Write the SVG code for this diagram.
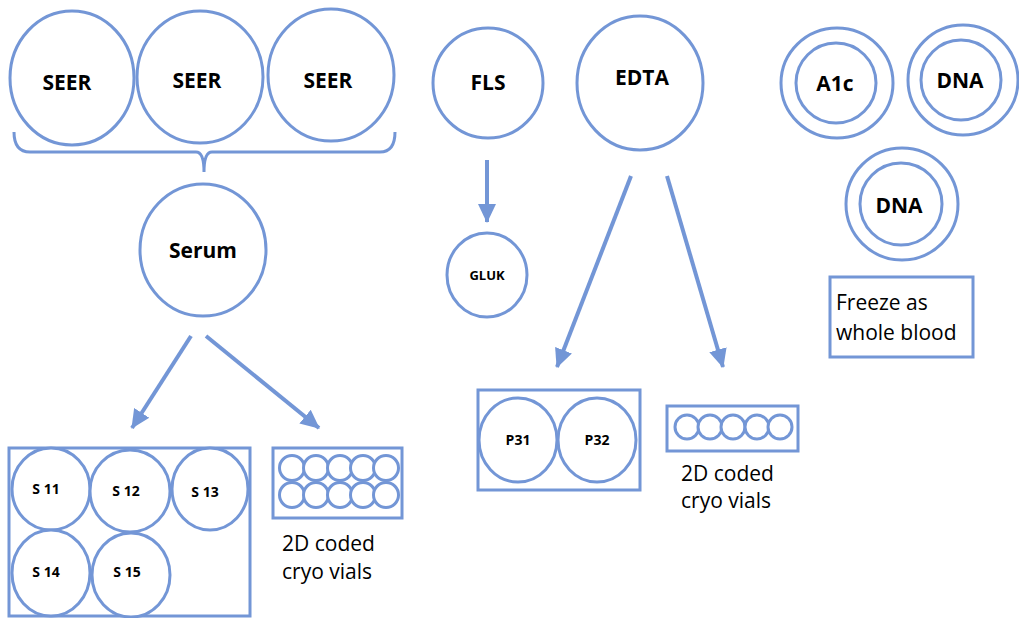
<svg xmlns="http://www.w3.org/2000/svg" width="1019" height="618" viewBox="0 0 1019 618">
  <style>
    .shape { fill: #ffffff; stroke: #7396d6; stroke-width: 3; }
    .box { fill: none; stroke: #7396d6; stroke-width: 3; }
    .vial { fill: #ffffff; stroke: #7396d6; stroke-width: 3; }
    .lbl { font-family: "Open Sans", "Liberation Sans", sans-serif; font-weight: bold; fill: #000000; text-anchor: middle; }
    .big { font-size: 21px; }
    .sm { font-size: 14px; }
    .xs { font-size: 13px; }
    .note { font-family: "Open Sans", "Liberation Sans", sans-serif; font-size: 21px; fill: #000000; }
    .conn { stroke: #7396d6; stroke-width: 4; fill: none; }
  </style>
  <defs>
    <marker id="head" markerUnits="userSpaceOnUse" markerWidth="20" markerHeight="20" viewBox="0 0 20 20" refX="18" refY="10" orient="auto">
      <path d="M0,1 L19,10 L0,19 Z" fill="#7396d6"/>
    </marker>
  </defs>

  <rect width="1019" height="618" fill="#ffffff"/>

  <!-- serum tubes -->
  <g id="seer1"><ellipse class="shape" cx="72" cy="78" rx="62" ry="67"/><text class="lbl big" x="67" y="90">SEER</text></g>
  <g id="seer2"><ellipse class="shape" cx="200" cy="77" rx="63" ry="66"/><text class="lbl big" x="197" y="88">SEER</text></g>
  <g id="seer3"><ellipse class="shape" cx="331" cy="75" rx="63" ry="66"/><text class="lbl big" x="328" y="88">SEER</text></g>

  <!-- brace grouping the SEER tubes -->
  <g id="brace">
    <path class="box" d="M14,132 Q14,152 30,152 L196,152 Q204,152 204,172 Q204,152 212,152 L380,152 Q395,152 395,132"/>
  </g>

  <g id="serum"><ellipse class="shape" cx="203" cy="250" rx="63" ry="66"/><text class="lbl big" x="203" y="258">Serum</text></g>

  <!-- serum aliquot rack -->
  <g id="serum-rack">
    <rect class="box" x="9" y="448" width="241" height="168"/>
    <ellipse class="shape" cx="51" cy="489" rx="39" ry="41"/><text class="lbl sm" x="46" y="494">S 11</text>
    <ellipse class="shape" cx="130" cy="491" rx="40" ry="41"/><text class="lbl sm" x="126" y="496">S 12</text>
    <ellipse class="shape" cx="210" cy="489" rx="38" ry="41"/><text class="lbl sm" x="205" y="497">S 13</text>
    <ellipse class="shape" cx="51" cy="573" rx="39" ry="43"/><text class="lbl sm" x="46" y="577">S 14</text>
    <ellipse class="shape" cx="131" cy="575" rx="39" ry="42"/><text class="lbl sm" x="127" y="577">S 15</text>
  </g>

  <!-- serum cryo vials -->
  <g id="serum-vials">
    <rect class="box" x="273" y="448" width="129" height="70"/>
    <circle class="vial" cx="292" cy="468" r="12.5"/>
    <circle class="vial" cx="316" cy="468" r="12.5"/>
    <circle class="vial" cx="340" cy="468" r="12.5"/>
    <circle class="vial" cx="363" cy="468" r="12.5"/>
    <circle class="vial" cx="386" cy="468" r="12.5"/>
    <circle class="vial" cx="292" cy="495" r="12.5"/>
    <circle class="vial" cx="316" cy="495" r="12.5"/>
    <circle class="vial" cx="340" cy="495" r="12.5"/>
    <circle class="vial" cx="363" cy="495" r="12.5"/>
    <circle class="vial" cx="386" cy="495" r="12.5"/>
    <text class="note" x="282" y="551">2D coded</text>
    <text class="note" x="282" y="579">cryo vials</text>
  </g>

  <g id="fls"><ellipse class="shape" cx="488" cy="83" rx="55" ry="55"/><text class="lbl big" x="488" y="90">FLS</text></g>
  <g id="gluk"><ellipse class="shape" cx="487" cy="275" rx="40" ry="42"/><text class="lbl xs" x="487" y="280">GLUK</text></g>

  <g id="edta"><ellipse class="shape" cx="640" cy="83" rx="63" ry="67"/><text class="lbl big" x="642" y="85">EDTA</text></g>

  <!-- plasma aliquot rack -->
  <g id="plasma-rack">
    <rect class="box" x="478" y="390" width="162" height="100"/>
    <ellipse class="shape" cx="518" cy="440" rx="39" ry="42"/><text class="lbl sm" x="518" y="445">P31</text>
    <ellipse class="shape" cx="597" cy="440" rx="39" ry="42"/><text class="lbl sm" x="597" y="445">P32</text>
  </g>

  <!-- plasma cryo vials -->
  <g id="plasma-vials">
    <rect class="box" x="667" y="406" width="131" height="45"/>
    <circle class="vial" cx="687" cy="427" r="12"/>
    <circle class="vial" cx="710" cy="427" r="12"/>
    <circle class="vial" cx="733" cy="427" r="12"/>
    <circle class="vial" cx="757" cy="427" r="12"/>
    <circle class="vial" cx="780" cy="427" r="12"/>
    <text class="note" x="681" y="481">2D coded</text>
    <text class="note" x="681" y="508">cryo vials</text>
  </g>

  <!-- whole blood tubes -->
  <g id="a1c">
    <ellipse class="shape" cx="837" cy="83" rx="56" ry="55"/>
    <circle class="shape" cx="836" cy="83" r="40"/>
    <text class="lbl big" x="835" y="91">A1c</text>
  </g>
  <g id="dna1">
    <circle class="shape" cx="963" cy="80" r="55"/>
    <circle class="shape" cx="961" cy="80" r="40"/>
    <text class="lbl big" x="960" y="88">DNA</text>
  </g>
  <g id="dna2">
    <ellipse class="shape" cx="902" cy="204" rx="56" ry="56"/>
    <circle class="shape" cx="901" cy="204" r="41"/>
    <text class="lbl big" x="899" y="213">DNA</text>
  </g>
  <g id="freeze-note">
    <rect class="box" x="830" y="277" width="143" height="80"/>
    <text class="note" x="836" y="310">Freeze as</text>
    <text class="note" x="836" y="340">whole blood</text>
  </g>

  <g id="connectors">
    <line class="conn" x1="191" y1="336" x2="132" y2="428" marker-end="url(#head)"/>
    <line class="conn" x1="206" y1="336" x2="319" y2="428" marker-end="url(#head)"/>
    <line class="conn" x1="487" y1="160" x2="487" y2="222" marker-end="url(#head)"/>
    <line class="conn" x1="631" y1="176" x2="557" y2="367" marker-end="url(#head)"/>
    <line class="conn" x1="667" y1="176" x2="723" y2="367" marker-end="url(#head)"/>
  </g>
</svg>
